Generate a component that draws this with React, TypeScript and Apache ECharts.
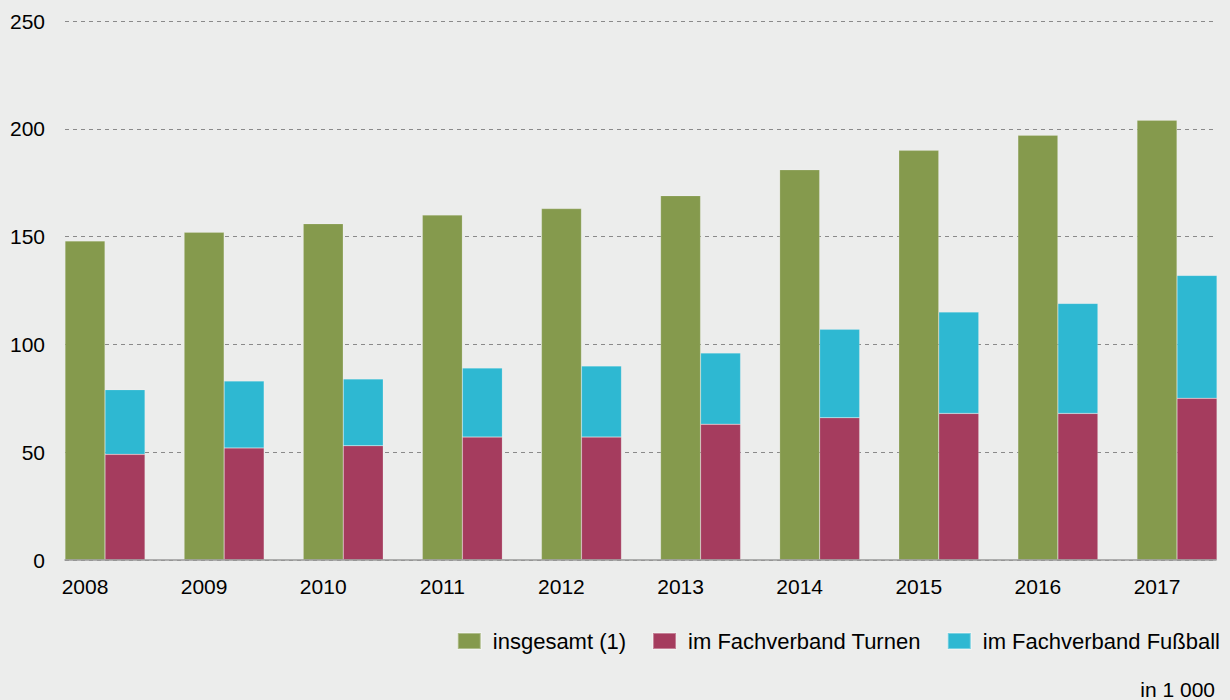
import React, { useEffect, useRef } from "react";
import * as echarts from "echarts";

const years = ["2008", "2009", "2010", "2011", "2012", "2013", "2014", "2015", "2016", "2017"];
const insgesamt = [148, 152, 156, 160, 163, 169, 181, 190, 197, 204];
const turnen = [49, 52, 53, 57, 57, 63, 66, 68, 68, 75];
const fussball = [30, 31, 31, 32, 33, 33, 41, 47, 51, 57];
const yTicks = { min: 0, max: 250, interval: 50 };

const FONT = "'Liberation Sans', Arial, Helvetica, sans-serif";
const GREEN = "#859a4d";
const RED = "#a53c5e";
const CYAN = "#2eb8d2";

export default function App() {
  const ref = useRef<HTMLDivElement>(null);
  useEffect(() => {
    document.body.style.margin = "0";
    const chart = echarts.init(ref.current!, null, { renderer: "svg" });
    const top = 21;
    const bottom = 140;
    const hiddenY = {
      type: "value",
      min: yTicks.min,
      max: yTicks.max,
      interval: yTicks.interval,
      show: false,
      splitLine: { show: false },
    };
    const border = { borderColor: "rgba(255,255,255,0.35)", borderWidth: 0.5 };
    chart.setOption({
      animation: false,
      backgroundColor: "#ecedec",
      textStyle: { fontFamily: FONT },
      title: {
        text: "in 1 000",
        right: 10,
        top: 673,
        textStyle: { fontFamily: FONT, fontSize: 21, fontWeight: "normal", color: "#000", lineHeight: 22 },
      },
      legend: {
        right: 5,
        top: 625,
        itemWidth: 23,
        itemHeight: 16,
        itemGap: 26,
        icon: "rect",
        textStyle: { fontFamily: FONT, fontSize: 22, color: "#000", lineHeight: 22, padding: [0, 0, 0, 7] },
        data: ["insgesamt (1)", "im Fachverband Turnen", "im Fachverband Fußball"],
      },
      grid: [
        { left: 65, width: 1151, top, bottom },
        { left: 105, width: 1072, top, bottom },
        { left: 85, width: 1072, top, bottom },
      ],
      xAxis: [
        {
          gridIndex: 0,
          type: "category",
          data: years,
          axisLabel: { show: false },
          axisTick: { show: false },
          axisLine: { show: true, lineStyle: { color: "#999", width: 1.5 } },
          z: 5,
        },
        {
          gridIndex: 1,
          type: "category",
          boundaryGap: false,
          data: years,
          show: false,
        },
        {
          gridIndex: 2,
          type: "category",
          boundaryGap: false,
          data: years,
          axisLine: { show: false },
          axisTick: { show: false },
          axisLabel: { fontFamily: FONT, fontSize: 21, color: "#000", margin: 16 },
        },
      ],
      yAxis: [
        {
          gridIndex: 0,
          type: "value",
          min: yTicks.min,
          max: yTicks.max,
          interval: yTicks.interval,
          axisLine: { show: false },
          axisTick: { show: false },
          axisLabel: { fontFamily: FONT, fontSize: 21, color: "#000", margin: 20 },
          splitLine: { show: true, lineStyle: { color: "#8a8a8a", width: 1, type: [4, 4] } },
        },
        { gridIndex: 1, ...hiddenY },
        { gridIndex: 2, ...hiddenY },
      ],
      series: [
        {
          name: "insgesamt (1)",
          type: "bar",
          xAxisIndex: 1,
          yAxisIndex: 1,
          barWidth: 40,
          barGap: "0%",
          data: insgesamt,
          itemStyle: { color: GREEN, ...border },
        },
        {
          name: "im Fachverband Turnen",
          type: "bar",
          xAxisIndex: 1,
          yAxisIndex: 1,
          stack: "sub",
          barWidth: 40,
          barGap: "0%",
          data: turnen,
          itemStyle: { color: RED, ...border },
        },
        {
          name: "im Fachverband Fußball",
          type: "bar",
          xAxisIndex: 1,
          yAxisIndex: 1,
          stack: "sub",
          barWidth: 40,
          barGap: "0%",
          data: fussball,
          itemStyle: { color: CYAN, ...border },
        },
      ],
    });
    return () => chart.dispose();
  }, []);
  return <div ref={ref} style={{ width: 1230, height: 700 }} />;
}
